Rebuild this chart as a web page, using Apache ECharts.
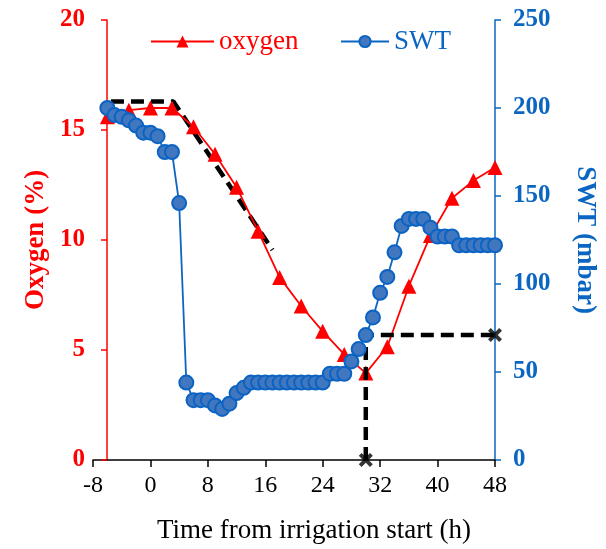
<!DOCTYPE html>
<html>
<head>
<meta charset="utf-8">
<script src="https://cdn.jsdelivr.net/npm/echarts@6/dist/echarts.min.js"></script>
<style>
  html, body { margin: 0; padding: 0; background: #fff; }
  #main { width: 606px; height: 549px; }
</style>
</head>
<body>
<div id="main"></div>
<script>
// oxygen readings every 3 h
var oxyHours = [-6, -3, 0, 3, 6, 9, 12, 15, 18, 21, 24, 27, 30, 33, 36, 39, 42, 45, 48];
var oxyValues = [15.6, 15.9, 16.0, 16.0, 15.15, 13.9, 12.4, 10.4, 8.3, 7.0, 5.85, 4.8, 3.95, 5.15, 7.9, 10.2, 11.9, 12.7, 13.3];

// soil water tension, hourly
var swtHours = [-6, -5, -4, -3, -2, -1, 0, 1, 2, 3, 4, 5, 6, 7, 8, 9, 10, 11, 12, 13, 14, 15, 16, 17, 18, 19, 20, 21, 22, 23, 24,
  25, 26, 27, 28, 29, 30, 31, 32, 33, 34, 35, 36, 37, 38, 39, 40, 41, 42, 43, 44, 45, 46, 47, 48];
var swtValues = [200, 196, 195, 193, 190, 186, 186, 184, 175, 175, 146, 44, 34, 34, 34, 31, 29, 32, 38, 41, 44, 44, 44, 44, 44, 44, 44, 44, 44, 44, 44,
  49, 49, 49, 56, 63, 71, 81, 95, 104, 118, 133, 137, 137, 137, 132, 127, 127, 127, 122, 122, 122, 122, 122, 122];

// guide lines (black dashed)
var oxyTrend = [[-5.5, 16.3], [3.2, 16.3], [17, 9.55]];
var swtGuide = [[30, 0], [30, 71], [48, 71]];
var crossPoints = [[30, 0], [48, 71]];

var xTicks = { min: -8, max: 48, step: 8 };

var red = "#ff0000";
var blue = "#0b66c2";
var serif = "Liberation Serif";

function zip(xs, ys) {
  return xs.map(function (x, i) { return [x, ys[i]]; });
}

var chart = echarts.init(document.getElementById("main"));
chart.setOption({
  animation: false,
  grid: { left: 93, right: 110, top: 20, bottom: 89 },
  legend: [
    {
      top: 28,
      left: 150,
      padding: 0,
      itemWidth: 63,
      itemHeight: 15,
      textStyle: { fontFamily: serif, fontSize: 27, color: red },
      data: ["oxygen"]
    },
    {
      top: 28,
      left: 340,
      padding: 0,
      itemWidth: 48,
      itemHeight: 14,
      textStyle: { fontFamily: serif, fontSize: 27, color: blue },
      data: ["SWT"]
    }
  ],
  xAxis: {
    type: "value",
    min: xTicks.min,
    max: xTicks.max,
    interval: xTicks.step,
    name: "Time from irrigation start (h)",
    nameLocation: "middle",
    nameGap: 57,
    nameTextStyle: { fontFamily: serif, fontSize: 27, color: "#000", padding: [0, 0, 0, 40] },
    axisLine: { onZero: false, lineStyle: { color: "#000", width: 1.5 } },
    axisTick: { show: true, inside: false, length: 7, lineStyle: { color: "#000", width: 1.5 } },
    axisLabel: { fontFamily: serif, fontSize: 24, color: "#000", margin: 14 },
    splitLine: { show: false }
  },
  yAxis: [
    {
      type: "value",
      position: "left",
      offset: -14,
      min: 0,
      max: 20,
      interval: 5,
      name: "Oxygen (%)",
      nameLocation: "middle",
      nameGap: 55,
      nameRotate: 90,
      nameTextStyle: { fontFamily: serif, fontSize: 27, fontWeight: "bold", color: red },
      axisLine: { show: true, onZero: false, lineStyle: { color: red, width: 1.5 } },
      axisTick: { show: true, length: 6, lineStyle: { color: red, width: 1.5 } },
      axisLabel: { fontFamily: serif, fontSize: 25, fontWeight: "bold", color: red, margin: 22 },
      splitLine: { show: false }
    },
    {
      type: "value",
      position: "right",
      min: 0,
      max: 250,
      interval: 50,
      name: "SWT (mbar)",
      nameLocation: "middle",
      nameGap: 76,
      nameRotate: -90,
      nameTextStyle: { fontFamily: serif, fontSize: 27, fontWeight: "bold", color: blue },
      axisLine: { show: true, onZero: false, lineStyle: { color: blue, width: 1.5 } },
      axisTick: { show: true, length: 6, lineStyle: { color: blue, width: 1.5 } },
      axisLabel: { fontFamily: serif, fontSize: 25, fontWeight: "bold", color: blue, margin: 18 },
      splitLine: { show: false }
    }
  ],
  series: [
    {
      name: "trend",
      type: "line",
      yAxisIndex: 0,
      data: oxyTrend,
      symbol: "none",
      silent: true,
      z: 1,
      lineStyle: { color: "#000", width: 4.5, type: [13, 7] }
    },
    {
      name: "oxygen",
      type: "line",
      yAxisIndex: 0,
      data: zip(oxyHours, oxyValues),
      symbol: "triangle",
      symbolSize: 15,
      z: 2,
      itemStyle: { color: red },
      lineStyle: { color: red, width: 1.8 }
    },
    {
      name: "guide",
      type: "line",
      yAxisIndex: 1,
      data: swtGuide,
      symbol: "none",
      silent: true,
      z: 3,
      lineStyle: { color: "#000", width: 4.5, type: [13, 7] }
    },
    {
      name: "SWT",
      type: "line",
      yAxisIndex: 1,
      data: zip(swtHours, swtValues),
      symbol: "circle",
      symbolSize: 14,
      z: 4,
      itemStyle: { color: "#4077bf", borderColor: "#0b63c4", borderWidth: 2 },
      lineStyle: { color: blue, width: 1.8 }
    },
    {
      name: "cross",
      type: "scatter",
      yAxisIndex: 1,
      data: crossPoints,
      symbol: "path://M2,0 L5,3 L8,0 L10,2 L7,5 L10,8 L8,10 L5,7 L2,10 L0,8 L3,5 L0,2 Z",
      symbolSize: 14,
      silent: true,
      z: 5,
      itemStyle: { color: "#000" }
    }
  ]
});
</script>
</body>
</html>
